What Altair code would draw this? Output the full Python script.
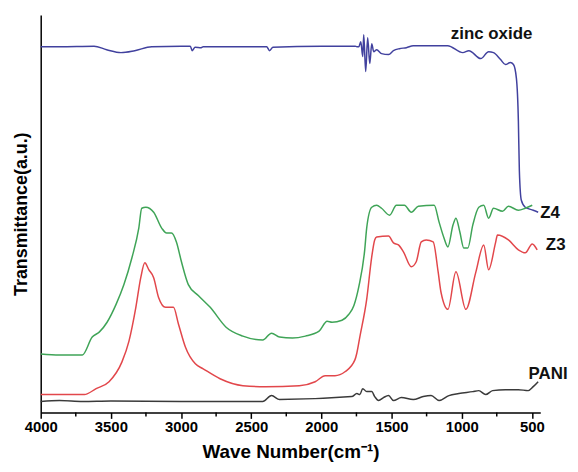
import altair as alt
import pandas as pd

# ---- data (wavenumber in cm-1, transmittance in a.u.) ----
zno_wn = [4000, 3866, 3620, 3530, 3428, 3330, 3209, 3000, 2934, 2920, 2900, 2856, 2842,
          2390, 2369, 2345, 2000, 1760, 1747, 1733, 1719, 1705, 1698, 1684, 1670, 1655,
          1641, 1627, 1606, 1571, 1521, 1486, 1444, 1394, 1345, 1100, 992, 949, 864, 808,
          773, 723, 688, 653, 631, 610, 596, 589, 575, 547, 490, 455]
zno_t = [369, 369, 369.5, 366, 363, 365, 369, 369.5, 369.5, 365, 368.5, 368, 369,
         369, 365, 368.5, 369.5, 369.5, 369, 369, 374, 359, 381, 344, 378, 352,
         372, 364, 366, 362, 361, 365, 367, 368, 370, 370, 363, 365, 357, 364,
         363, 356, 351, 353, 351, 337, 294, 244, 214, 207, 204, 202]

z4_wn = [4000, 3866, 3703, 3633, 3583, 3527, 3463, 3407, 3350, 3301, 3280, 3251, 3195,
         3138, 3103, 3068, 3033, 2997, 2948, 2877, 2792, 2679, 2559, 2418, 2355, 2298,
         2206, 2114, 2016, 1959, 1924, 1853, 1804, 1768, 1733, 1691, 1677, 1641, 1606,
         1571, 1514, 1465, 1408, 1359, 1309, 1196, 1161, 1126, 1098, 1062, 1041, 1013,
         985, 956, 921, 878, 843, 808, 773, 709, 667, 596, 547, 497]
z4_t = [59, 58, 58, 76, 81, 91, 109, 129, 156, 186, 206, 207, 202,
        186, 181, 181, 172, 152, 129, 118, 106, 86, 77, 73, 80, 76,
        75, 77, 82, 92, 91, 93, 99, 108, 127, 164, 186, 207, 209,
        206, 199, 209, 209, 202, 208, 209, 192, 176, 167, 189, 196, 182,
        166, 166, 189, 207, 209, 196, 206, 203, 208, 204, 206, 209]

z3_wn = [4000, 3689, 3605, 3513, 3421, 3371, 3322, 3287, 3258, 3230, 3195, 3160, 3110,
         3054, 3018, 2969, 2898, 2842, 2722, 2559, 2397, 2157, 2044, 1973, 1903, 1832,
         1761, 1747, 1726, 1677, 1641, 1620, 1606, 1521, 1486, 1451, 1415, 1359, 1324,
         1288, 1253, 1203, 1168, 1147, 1098, 1041, 970, 900, 843, 808, 759, 745, 667,
         596, 547, 497, 462]
z3_t = [18, 18, 24, 31, 51, 72, 106, 136, 151, 144, 136, 116, 106,
        106, 89, 66, 49, 44, 34, 27, 26, 27, 31, 37, 37, 41,
        53, 60, 76, 114, 157, 174, 177, 178, 171, 169, 162, 147, 152,
        172, 174, 172, 142, 121, 104, 142, 104, 141, 169, 144, 171, 179, 174,
        164, 161, 170, 164]

pani_wn = [4000, 3866, 3700, 3500, 3000, 2418, 2355, 2298, 1783, 1747, 1726, 1705, 1677,
           1641, 1620, 1592, 1557, 1521, 1486, 1430, 1345, 1274, 1218, 1161, 1091, 1020,
           921, 878, 829, 780, 688, 596, 526, 490, 455]
pani_t = [11, 12, 11, 11.5, 11, 11, 17, 13, 16, 19, 18, 24, 21,
          21, 16, 12, 15, 17, 12, 15, 13, 16, 17, 12, 17, 19,
          21, 22, 18, 22, 23, 23, 22, 26, 31]

series_names = ["zinc oxide", "Z4", "Z3", "PANI"]
series_colors = ["#41419e", "#3fa457", "#e2474b", "#3a3a3a"]

label_text = ["zinc oxide", "Z4", "Z3", "PANI"]
label_wn = [787, 370, 330, 384]
label_t = [382, 201, 169, 39]

major_ticks = [4000, 3500, 3000, 2500, 2000, 1500, 1000, 500]
minor_ticks = [3750, 3250, 2750, 2250, 1750, 1250, 750]

# ---- build table ----
rows = []
for name, wn, t in [("zinc oxide", zno_wn, zno_t), ("Z4", z4_wn, z4_t),
                    ("Z3", z3_wn, z3_t), ("PANI", pani_wn, pani_t)]:
    for i, (a, b) in enumerate(zip(wn, t)):
        rows.append({"series": name, "wn": a, "t": b, "idx": i})
df = pd.DataFrame(rows)
labels = pd.DataFrame({"text": label_text, "wn": label_wn, "t": label_t})
minor = pd.DataFrame({"wn": minor_ticks})

FONT = "Liberation Sans"
xscale = alt.Scale(domain=[4000, 440], nice=False, zero=False)
yscale = alt.Scale(domain=[0, 401], nice=False, zero=False)

lines = alt.Chart(df).mark_line(strokeWidth=1.5, interpolate="monotone").encode(
    x=alt.X("wn:Q", scale=xscale,
            axis=alt.Axis(values=major_ticks, format="d", title="Wave Number(cm⁻¹)",
                          grid=False, tickSize=6, tickColor="black", tickWidth=1.5,
                          domainColor="black", domainWidth=1.5, labelFlush=False,
                          labelFont=FONT, labelFontSize=15, labelFontWeight="bold",
                          labelColor="black", labelPadding=1,
                          titleFont=FONT, titleFontSize=19, titleFontWeight="bold",
                          titleColor="black", titlePadding=8)),
    y=alt.Y("t:Q", scale=yscale,
            axis=alt.Axis(title="Transmittance(a.u.)", labels=False, ticks=False,
                          grid=False, domainColor="black", domainWidth=1.5,
                          titleFont=FONT, titleFontSize=18, titleFontWeight="bold",
                          titleColor="black", titlePadding=10)),
    color=alt.Color("series:N", scale=alt.Scale(domain=series_names, range=series_colors),
                    legend=None),
    detail="series:N",
    order="idx:Q",
)

text = alt.Chart(labels).mark_text(font=FONT, fontSize=17, fontWeight="bold",
                                    color="#111111").encode(
    x=alt.X("wn:Q", scale=xscale),
    y=alt.Y("t:Q", scale=yscale),
    text="text:N",
)

minor_rules = alt.Chart(minor).mark_rule(color="black", strokeWidth=1.5).encode(
    x=alt.X("wn:Q", scale=xscale),
    y=alt.value(401),
    y2=alt.value(405),
)

chart = alt.layer(lines, minor_rules, text).properties(
    width=504, height=401,
    autosize=alt.AutoSizeParams(type="none"),
    padding={"left": 33, "top": 5, "right": 30, "bottom": 50},
    background="white",
).configure_view(stroke=None)

chart.save("out.html", embed_options={"renderer": "svg", "actions": False})
